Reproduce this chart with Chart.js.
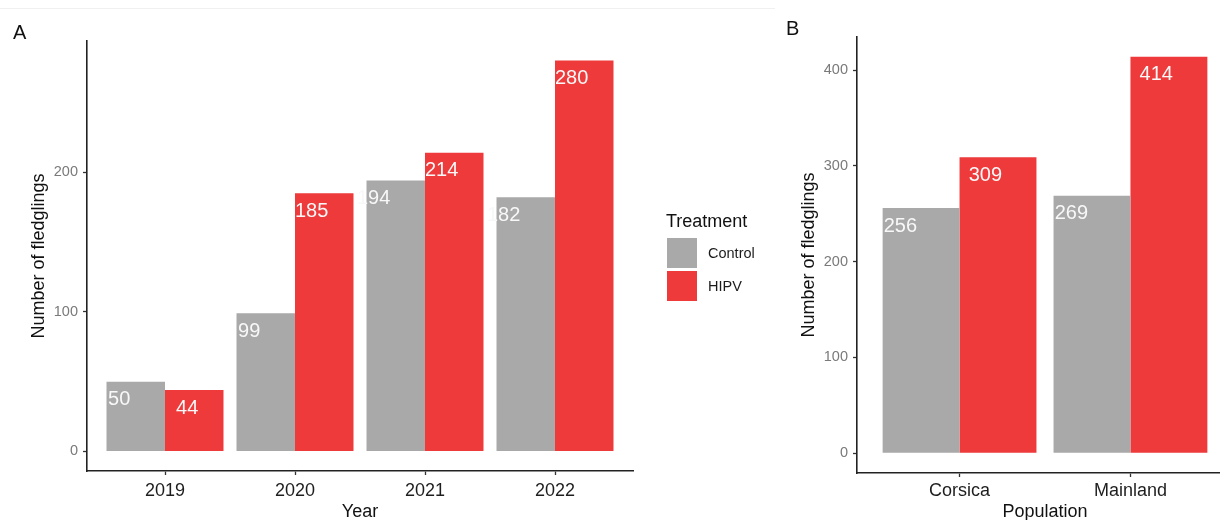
<!DOCTYPE html>
<html><head><meta charset="utf-8">
<script src="https://cdn.jsdelivr.net/npm/chart.js@4.4.1/dist/chart.umd.min.js"></script>
<style>
html,body{margin:0;padding:0;background:#fff;overflow:hidden;}
#wrap{position:relative;width:1220px;height:520px;overflow:hidden;background:#fff;}
#topline{position:absolute;left:0;top:8px;width:775px;height:1px;background:#f0f0f0;}
#boxA{position:absolute;left:0;top:0;width:780px;height:540px;}
#boxB{position:absolute;left:780px;top:0;width:460px;height:540px;}
</style></head><body>
<div id="wrap"><div id="topline"></div>
<div id="boxA"><canvas id="cA"></canvas></div>
<div id="boxB"><canvas id="cB"></canvas></div></div>
<script>
// ---- data ----
const years = ['2019', '2020', '2021', '2022'];
const controlByYear = [50, 99, 194, 182];
const hipvByYear = [44, 185, 214, 280];
const populations = ['Corsica', 'Mainland'];
const controlByPop = [256, 269];
const hipvByPop = [309, 414];
const seriesNames = ['Control', 'HIPV'];
const yTicksA = [0, 100, 200];
const yTicksB = [0, 100, 200, 300, 400];
const legendTitle = 'Treatment';
const yTitle = 'Number of fledglings';
const xTitleA = 'Year';
const xTitleB = 'Population';
const tagA = 'A';
const tagB = 'B';

// ---- styles ----
const COLORS = ['#A9A9A9', '#EE3A3B'];
const FONT = "'Liberation Sans', Arial, Helvetica, sans-serif";

function valueLabels(dx) {
  return {
    id: 'valueLabels',
    afterDatasetsDraw(chart) {
      const ctx = chart.ctx;
      ctx.save();
      ctx.font = '20px ' + FONT;
      ctx.fillStyle = '#f8f8f8';
      ctx.textAlign = 'right';
      ctx.textBaseline = 'middle';
      chart.data.datasets.forEach((ds, di) => {
        const meta = chart.getDatasetMeta(di);
        meta.data.forEach((el, i) => {
          ctx.fillText(String(ds.data[i].y), el.x + dx[di], el.y + 18);
        });
      });
      ctx.restore();
    }
  };
}

function tagPlugin(text, x, y) {
  return {
    id: 'tag' + text,
    afterDraw(chart) {
      const ctx = chart.ctx;
      ctx.save();
      ctx.font = '20px ' + FONT;
      ctx.fillStyle = '#111';
      ctx.textAlign = 'left';
      ctx.textBaseline = 'alphabetic';
      ctx.fillText(text, x, y);
      ctx.restore();
    }
  };
}

const legendPlugin = {
  id: 'legendBox',
  afterDraw(chart) {
    const ctx = chart.ctx;
    ctx.save();
    ctx.fillStyle = '#111';
    ctx.font = '18px ' + FONT;
    ctx.textAlign = 'left';
    ctx.textBaseline = 'alphabetic';
    ctx.fillText(legendTitle, 666, 227);
    ctx.font = '14.5px ' + FONT;
    ctx.textBaseline = 'middle';
    chart.data.datasets.forEach((ds, i) => {
      const top = 238 + i * 33;
      ctx.fillStyle = ds.backgroundColor;
      ctx.fillRect(667, top, 30, 30);
      ctx.fillStyle = '#1a1a1a';
      ctx.fillText(ds.label, 708, top + 16);
    });
    ctx.restore();
  }
};

function makeChart(id, cats, ctrl, hipv, yticks, xTitle, L, extraPlugins) {
  const n = cats.length;
  const top = Math.max(...ctrl, ...hipv);
  const datasets = [ctrl, hipv].map((arr, k) => ({
    label: seriesNames[k],
    data: arr.map((v, i) => ({ x: i + 1, y: v })),
    backgroundColor: COLORS[k],
    borderWidth: 0,
    categoryPercentage: 0.9,
    barPercentage: 1
  }));
  const axisBorder = { display: true, color: '#222', width: 1.6 };
  const gridX = { offset: false, drawOnChartArea: false, drawTicks: true, tickLength: 4, tickColor: '#333', tickWidth: 1.3 };
  const gridY = { drawOnChartArea: false, drawTicks: true, tickLength: 4, tickColor: '#333', tickWidth: 1.3 };
  return new Chart(document.getElementById(id), {
    type: 'bar',
    data: { datasets },
    plugins: [valueLabels(L.labelDx), ...extraPlugins],
    options: {
      responsive: true,
      maintainAspectRatio: false,
      animation: false,
      layout: { padding: { left: 0, right: L.padRight, top: L.padTop, bottom: 0 } },
      plugins: { legend: { display: false }, tooltip: { enabled: false } },
      scales: {
        x: {
          type: 'linear',
          offset: false,
          min: 0.4,
          max: n + 0.6,
          afterBuildTicks: s => { s.ticks = cats.map((c, i) => ({ value: i + 1 })); },
          ticks: {
            callback: v => cats[Math.round(v) - 1] ?? '',
            font: { family: FONT, size: 18 },
            color: '#1e1e1e',
            padding: L.xTickPad,
            maxRotation: 0,
            autoSkip: false
          },
          grid: gridX,
          border: axisBorder,
          title: { display: true, text: xTitle, font: { family: FONT, size: 18 }, color: '#111', padding: { top: 0, bottom: 17 } },
          afterFit: s => { s.height = L.xHeight; }
        },
        y: {
          min: -top * 0.05,
          max: top * 1.05,
          afterBuildTicks: s => { s.ticks = yticks.map(v => ({ value: v })); },
          ticks: { font: { family: FONT, size: 14.5 }, color: '#7a7a7a', padding: 5 },
          grid: gridY,
          border: axisBorder,
          title: { display: true, text: yTitle, font: { family: FONT, size: 18 }, color: '#111', padding: { top: L.yTitlePad, bottom: 0 } },
          afterFit: s => { s.width = L.yWidth; }
        }
      }
    }
  });
}

makeChart('cA', years, controlByYear, hipvByYear, yTicksA, xTitleA,
  { padRight: 147, padTop: 41, xHeight: 69, yWidth: 87, yTitlePad: 28.7, xTickPad: 5, labelDx: [-5.5, 4] },
  [tagPlugin(tagA, 13, 39), legendPlugin]);

makeChart('cB', populations, controlByPop, hipvByPop, yTicksB, xTitleB,
  { padRight: 7, padTop: 37, xHeight: 67, yWidth: 77, yTitlePad: 18.7, xTickPad: 3, labelDx: [-4, 4] },
  [tagPlugin(tagB, 6, 35)]);
</script>
</body></html>
